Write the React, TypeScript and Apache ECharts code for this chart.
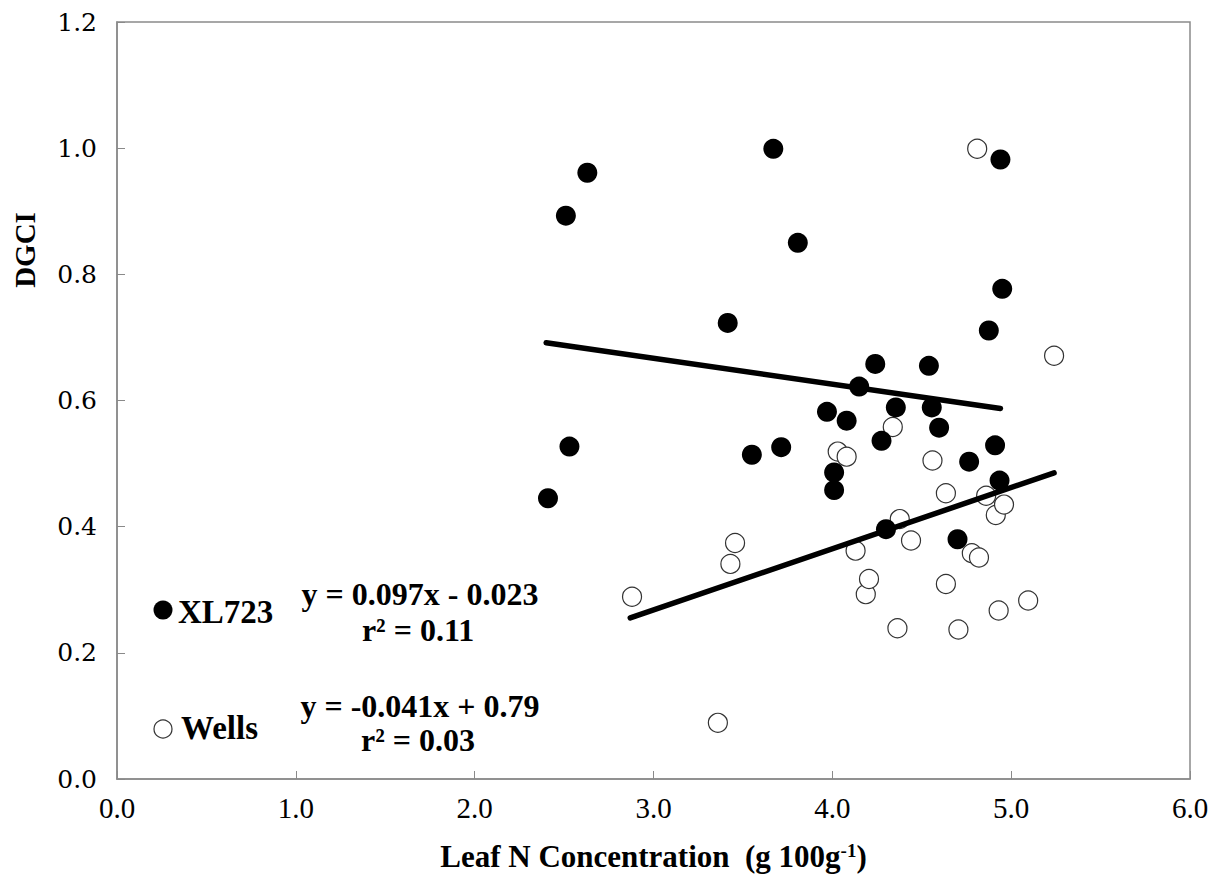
import React, { useEffect, useRef } from "react";
import * as echarts from "echarts";

const xl723X = [2.41, 2.51, 2.53, 2.63, 3.415, 3.55, 3.67, 3.714, 3.807, 3.97, 4.01, 4.01, 4.08, 4.15, 4.24, 4.275, 4.30, 4.355, 4.54, 4.556, 4.597, 4.70, 4.765, 4.875, 4.91, 4.935, 4.94, 4.95];
const xl723Y = [0.445, 0.893, 0.527, 0.961, 0.723, 0.514, 0.999, 0.526, 0.850, 0.582, 0.486, 0.458, 0.568, 0.622, 0.658, 0.536, 0.396, 0.589, 0.655, 0.589, 0.557, 0.380, 0.503, 0.711, 0.529, 0.473, 0.982, 0.777];

const wellsX = [2.88, 3.36, 3.43, 3.456, 4.03, 4.08, 4.13, 4.187, 4.205, 4.338, 4.364, 4.377, 4.44, 4.56, 4.635, 4.635, 4.705, 4.78, 4.81, 4.82, 4.86, 4.914, 4.93, 4.96, 5.095, 5.24];
const wellsY = [0.289, 0.089, 0.341, 0.374, 0.519, 0.511, 0.362, 0.293, 0.317, 0.558, 0.239, 0.412, 0.378, 0.505, 0.453, 0.309, 0.237, 0.358, 0.999, 0.351, 0.449, 0.4185, 0.267, 0.435, 0.283, 0.671];

// regression lines: [slope, intercept], x range
const fitUp = [0.097, -0.023];
const fitUpRange = [2.87, 5.24];
const fitDown = [-0.041, 0.79];
const fitDownRange = [2.40, 4.94];

const xTicks = ["0.0", "1.0", "2.0", "3.0", "4.0", "5.0", "6.0"];
const yTicks = ["0.0", "0.2", "0.4", "0.6", "0.8", "1.0", "1.2"];

const eqUp = ["y = 0.097x - 0.023", "r² = 0.11"];
const eqDown = ["y = -0.041x + 0.79", "r² = 0.03"];
const legendNames = ["XL723", "Wells"];

const serif = "'Liberation Serif', 'Times New Roman', serif";

export default function App() {
  const ref = useRef<HTMLDivElement>(null);
  useEffect(() => {
    if (!ref.current) return;
    const chart = echarts.init(ref.current, undefined, { renderer: "svg" });
    const pts = (xs: number[], ys: number[]) => xs.map((x, i) => [x, ys[i]]);
    const fitLine = (f: number[], r: number[]) => r.map((x) => [x, f[0] * x + f[1]]);
    const eqStyle = {
      fontFamily: serif,
      fontSize: 32,
      fontWeight: "bold",
      fill: "#000",
      align: "center",
      verticalAlign: "middle",
    };
    chart.setOption({
      animation: false,
      backgroundColor: "#ffffff",
      grid: {
        left: 117,
        top: 22,
        right: 32,
        bottom: 105,
        show: true,
        borderColor: "#8a8a8a",
        borderWidth: 1.5,
      },
      xAxis: {
        type: "value",
        min: 0,
        max: 6,
        interval: 1,
        axisLine: { lineStyle: { color: "#8a8a8a", width: 1.5 } },
        axisTick: { inside: true, length: 8, lineStyle: { color: "#8a8a8a" } },
        splitLine: { show: false },
        axisLabel: {
          margin: 14,
          fontFamily: serif,
          fontSize: 29,
          color: "#000",
          formatter: (v: number) => xTicks[Math.round(v)],
        },
        name: "Leaf N Concentration  (g 100g{sup|-1})",
        nameLocation: "middle",
        nameGap: 62,
        nameTextStyle: {
          fontFamily: serif,
          fontSize: 31,
          fontWeight: "bold",
          color: "#000",
          rich: {
            sup: {
              fontFamily: serif,
              fontSize: 19,
              fontWeight: "bold",
              color: "#000",
              verticalAlign: "top",
              padding: [0, 0, 12, 0],
            },
          },
        },
      },
      yAxis: {
        type: "value",
        min: 0,
        max: 1.2,
        interval: 0.2,
        axisLine: { show: true, lineStyle: { color: "#8a8a8a", width: 1.5 } },
        axisTick: { show: true, inside: true, length: 8, lineStyle: { color: "#8a8a8a" } },
        splitLine: { show: false },
        axisLabel: {
          margin: 20,
          fontFamily: "'DejaVu Serif', serif",
          fontSize: 25,
          color: "#000",
          formatter: (v: number) => yTicks[Math.round(v * 5)],
        },
      },
      graphic: [
        {
          type: "text",
          x: 25,
          y: 250,
          rotation: Math.PI / 2,
          style: {
            text: "DGCI",
            fontFamily: serif,
            fontSize: 29,
            fontWeight: "bold",
            fill: "#000",
            align: "center",
            verticalAlign: "middle",
          },
        },
        { type: "circle", shape: { cx: 163, cy: 610, r: 9.5 }, style: { fill: "#000" } },
        {
          type: "text",
          x: 178,
          y: 612,
          style: { text: legendNames[0], fontFamily: serif, fontSize: 33, fontWeight: "bold", fill: "#000", verticalAlign: "middle" },
        },
        { type: "circle", shape: { cx: 163, cy: 729, r: 9 }, style: { fill: "#fff", stroke: "#333", lineWidth: 1.2 } },
        {
          type: "text",
          x: 181,
          y: 728,
          style: { text: legendNames[1], fontFamily: serif, fontSize: 33, fontWeight: "bold", fill: "#000", verticalAlign: "middle" },
        },
        { type: "text", x: 420, y: 594, style: { ...eqStyle, text: eqUp[0] } },
        { type: "text", x: 418, y: 630, style: { ...eqStyle, text: eqUp[1] } },
        { type: "text", x: 420, y: 706, style: { ...eqStyle, text: eqDown[0] } },
        { type: "text", x: 418, y: 740, style: { ...eqStyle, text: eqDown[1] } },
      ],
      series: [
        {
          name: "Wells",
          type: "scatter",
          data: pts(wellsX, wellsY),
          symbol: "circle",
          symbolSize: 19,
          itemStyle: { color: "#ffffff", borderColor: "#333333", borderWidth: 1.2, opacity: 1 },
          z: 2,
        },
        {
          name: "XL723",
          type: "scatter",
          data: pts(xl723X, xl723Y),
          symbol: "circle",
          symbolSize: 20,
          itemStyle: { color: "#000000", opacity: 1 },
          z: 3,
        },
        {
          name: "fit up",
          type: "line",
          data: fitLine(fitUp, fitUpRange),
          showSymbol: false,
          symbol: "none",
          lineStyle: { color: "#000", width: 5.5, cap: "round" },
          z: 4,
        },
        {
          name: "fit down",
          type: "line",
          data: fitLine(fitDown, fitDownRange),
          showSymbol: false,
          symbol: "none",
          lineStyle: { color: "#000", width: 5.5, cap: "round" },
          z: 4,
        },
      ],
    });
    return () => chart.dispose();
  }, []);
  return (
    <div
      ref={ref}
      style={{ position: "fixed", left: 0, top: 0, width: 1222, height: 884, background: "#fff" }}
    />
  );
}
